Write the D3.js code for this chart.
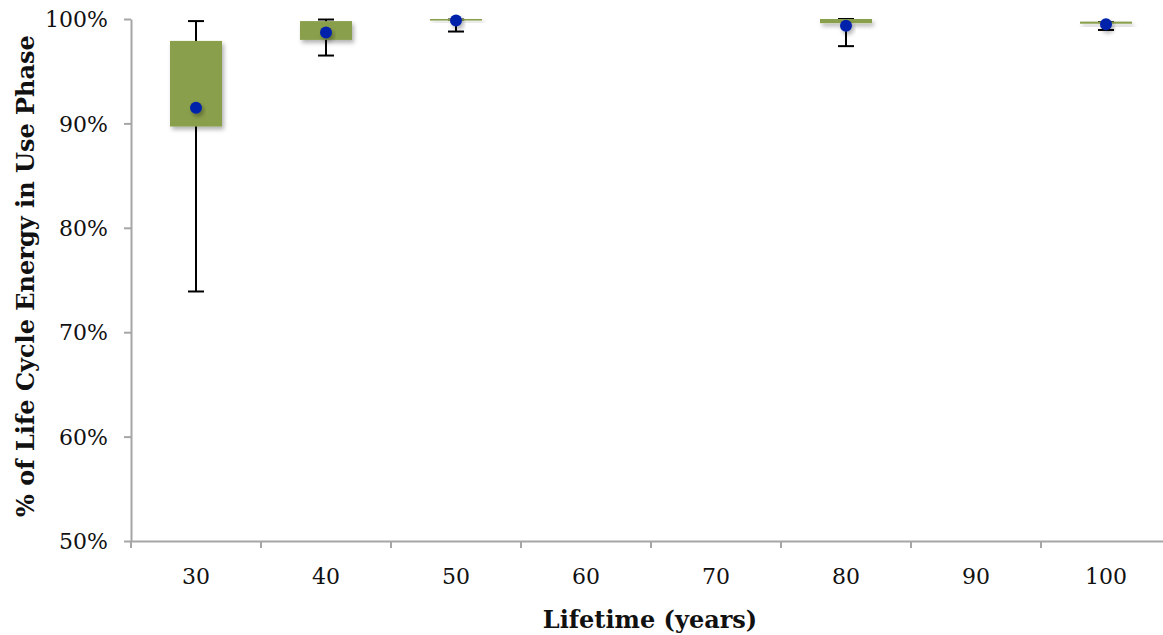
<!DOCTYPE html>
<meta charset='utf-8'>
<html>

<head>
    <title>Use phase share of life cycle energy</title>
    <script src="https://cdn.jsdelivr.net/npm/d3@7"></script>
    <style>
        body {
            padding: 0;
            margin: 0;
            background: #fff;
        }

        svg text {
            font-family: "DejaVu Serif", "Liberation Serif", serif;
            fill: #111;
        }

        .axis path,
        .axis line {
            stroke: #a6a6a6;
            stroke-width: 2px;
        }
    </style>
</head>

<body>
    <svg id="chart" width="1163" height="635"></svg>

    <script>
        // lifetime categories (years)
        const categories = ['30', '40', '50', '60', '70', '80', '90', '100'];
        // values in % of life cycle energy, null = no data
        const boxLow = [89.7, 98.0, 99.85, null, null, 99.6, null, 99.55];
        const boxHigh = [97.9, 99.8, 100, null, null, 100, null, 99.75];
        const whiskerLow = [73.9, 96.5, 98.8, null, null, 97.4, null, 98.95];
        const whiskerHigh = [99.8, 99.95, 99.95, null, null, 100, null, 99.7];
        const means = [91.5, 98.7, 99.85, null, null, 99.35, null, 99.5];
        const yTicks = [50, 60, 70, 80, 90, 100];

        var svg = d3.select('#chart');

        var plotLeft = 131, plotTop = 19, plotBottom = 541;
        var bandW = 130;

        var x = d3.scaleBand()
            .domain(categories)
            .range([plotLeft, plotLeft + bandW * categories.length])
            .padding(0);

        var y = d3.scaleLinear()
            .domain([50, 100])
            .range([plotBottom, plotTop]);

        // soft shadow under the boxes and dots
        var defs = svg.append('defs');
        var f = defs.append('filter').attr('id', 'shadow')
            .attr('x', '-30%').attr('y', '-50%').attr('width', '160%').attr('height', '300%');
        f.append('feDropShadow')
            .attr('dx', 2).attr('dy', 3)
            .attr('stdDeviation', 2)
            .attr('flood-color', '#000')
            .attr('flood-opacity', 0.3);

        // axes
        var yAxis = svg.append('g')
            .attr('class', 'axis')
            .attr('transform', 'translate(' + plotLeft + ',0)')
            .call(d3.axisLeft(y).tickValues(yTicks).tickSize(7).tickSizeOuter(0)
                .tickFormat(d => d + '%'));
        yAxis.selectAll('text')
            .attr('x', -23)
            .attr('dy', '0.35em')
            .style('font-size', '22px');

        var xAxis = svg.append('g')
            .attr('class', 'axis')
            .attr('transform', 'translate(0,' + plotBottom + ')')
            .call(d3.axisBottom(x).tickSize(0).tickSizeOuter(0));
        xAxis.selectAll('text')
            .attr('y', 35)
            .attr('dy', '0.35em')
            .style('font-size', '22px');
        // tick marks sit between categories
        xAxis.selectAll('.sep')
            .data(categories)
            .enter()
            .append('line')
            .attr('class', 'sep')
            .attr('x1', d => x(d))
            .attr('x2', d => x(d))
            .attr('y1', 0)
            .attr('y2', 7);

        var idx = d3.range(categories.length).filter(i => means[i] !== null);
        var plot = svg.append('g');
        var boxW = 52, capW = 16;

        // whiskers
        var wh = plot.selectAll('.whisker')
            .data(idx)
            .enter()
            .append('g')
            .attr('class', 'whisker')
            .attr('stroke', '#000')
            .attr('stroke-width', 2);
        wh.append('line')
            .attr('x1', i => x(categories[i]) + bandW / 2)
            .attr('x2', i => x(categories[i]) + bandW / 2)
            .attr('y1', i => y(whiskerLow[i]))
            .attr('y2', i => y(whiskerHigh[i]));
        wh.append('line')
            .attr('x1', i => x(categories[i]) + bandW / 2 - capW / 2)
            .attr('x2', i => x(categories[i]) + bandW / 2 + capW / 2)
            .attr('y1', i => y(whiskerLow[i]))
            .attr('y2', i => y(whiskerLow[i]));
        wh.append('line')
            .attr('x1', i => x(categories[i]) + bandW / 2 - capW / 2)
            .attr('x2', i => x(categories[i]) + bandW / 2 + capW / 2)
            .attr('y1', i => y(whiskerHigh[i]))
            .attr('y2', i => y(whiskerHigh[i]));

        // boxes
        plot.selectAll('.box')
            .data(idx)
            .enter()
            .append('rect')
            .attr('class', 'box')
            .attr('x', i => x(categories[i]) + bandW / 2 - boxW / 2)
            .attr('width', boxW)
            .attr('y', i => y(boxHigh[i]))
            .attr('height', i => Math.max(1.5, y(boxLow[i]) - y(boxHigh[i])))
            .attr('fill', '#8a9f4b')
            .attr('filter', 'url(#shadow)');

        // means
        plot.selectAll('.mean')
            .data(idx)
            .enter()
            .append('circle')
            .attr('class', 'mean')
            .attr('cx', i => x(categories[i]) + bandW / 2)
            .attr('cy', i => y(means[i]))
            .attr('r', 6)
            .attr('fill', '#0522aa')
            .attr('filter', 'url(#shadow)');

        // axis titles
        svg.append('text')
            .attr('x', 650)
            .attr('y', 628)
            .attr('text-anchor', 'middle')
            .style('font-size', '24px')
            .style('font-weight', 'bold')
            .text('Lifetime (years)');

        svg.append('text')
            .attr('transform', 'translate(34,276) rotate(-90)')
            .attr('text-anchor', 'middle')
            .style('font-size', '24px')
            .style('font-weight', 'bold')
            .text('% of Life Cycle Energy in Use Phase');
    </script>
</body>

</html>
